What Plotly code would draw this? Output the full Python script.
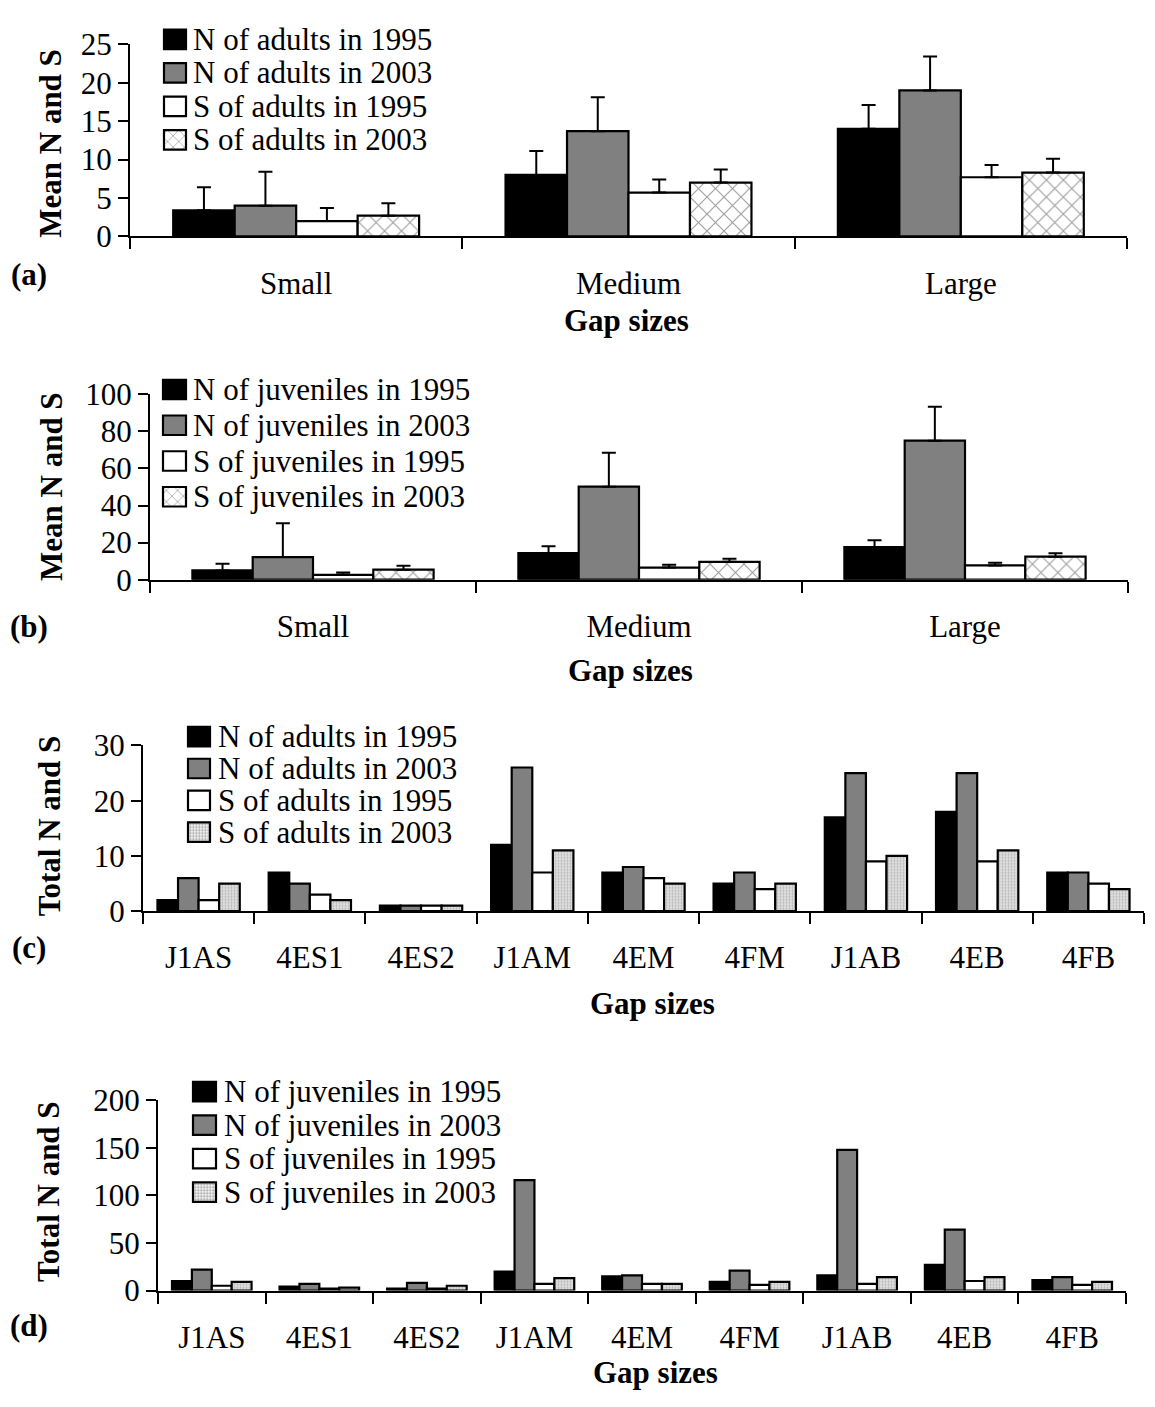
import plotly.graph_objects as go

W, H = 1155, 1407
FONT = "Liberation Serif"
FS = 31

# ---------------- data ----------------
size_cats = ["Small", "Medium", "Large"]
site_cats = ["J1AS", "4ES1", "4ES2", "J1AM", "4EM", "4FM", "J1AB", "4EB", "4FB"]

adult_labels = ["N of adults in 1995", "N of adults in 2003",
                "S of adults in 1995", "S of adults in 2003"]
juv_labels = ["N of juveniles in 1995", "N of juveniles in 2003",
              "S of juveniles in 1995", "S of juveniles in 2003"]

# (a) mean adults per gap size (+ SE)
a_N1995 = [3.4, 8.0, 14.0]
a_N2003 = [4.0, 13.7, 19.0]
a_S1995 = [2.0, 5.7, 7.7]
a_S2003 = [2.7, 7.0, 8.3]
a_N1995_se = [3.0, 3.1, 3.1]
a_N2003_se = [4.4, 4.4, 4.4]
a_S1995_se = [1.7, 1.7, 1.6]
a_S2003_se = [1.6, 1.7, 1.8]

# (b) mean juveniles per gap size (+ SE)
b_N1995 = [5.0, 14.3, 17.6]
b_N2003 = [12.2, 50.2, 75.0]
b_S1995 = [2.6, 6.5, 7.7]
b_S2003 = [5.4, 9.6, 12.4]
b_N1995_se = [3.6, 3.7, 3.7]
b_N2003_se = [18.2, 18.3, 18.3]
b_S1995_se = [1.2, 1.5, 1.4]
b_S2003_se = [2.1, 1.7, 1.8]

# (c) total adults per gap
c_N1995 = [2, 7, 1, 12, 7, 5, 17, 18, 7]
c_N2003 = [6, 5, 1, 26, 8, 7, 25, 25, 7]
c_S1995 = [2, 3, 1, 7, 6, 4, 9, 9, 5]
c_S2003 = [5, 2, 1, 11, 5, 5, 10, 11, 4]

# (d) total juveniles per gap
d_N1995 = [10, 4, 2, 20, 15, 9, 16, 27, 11]
d_N2003 = [22, 7, 8, 116, 16, 21, 148, 64, 14]
d_S1995 = [5, 2, 2, 7, 7, 6, 7, 10, 6]
d_S2003 = [9, 3, 5, 13, 7, 9, 14, 14, 9]

# ---------------- styles ----------------
BASE_COLORS = ["#000000", "#808080", "#ffffff", "#ffffff"]
HATCH = dict(shape="x", fgcolor="#404040", bgcolor="#ffffff", size=12, solidity=0.18)
STIPPLE = dict(shape=".", fgcolor="#8a8a8a", bgcolor="#e6e6e6", size=3, solidity=0.45)


def px_x(p):
    return p / W


def px_y(p):
    return 1 - p / H


panels = [
    dict(cats=size_cats, series=[a_N1995, a_N2003, a_S1995, a_S2003],
         se=[a_N1995_se, a_N2003_se, a_S1995_se, a_S2003_se], labels=adult_labels,
         pat=HATCH, x0=130, x1=1127, ytop=28, ybot=225, ymax=25, dtick=5,
         ytitle="Mean N and S", ytitle_pos=(51, 130), gap_pos=(626, 311),
         letter="(a)", letter_pos=(29, 264),
         sw=(164, 186), rows=(23, 126), text_x=191),
    dict(cats=size_cats, series=[b_N1995, b_N2003, b_S1995, b_S2003],
         se=[b_N1995_se, b_N2003_se, b_S1995_se, b_S2003_se], labels=juv_labels,
         pat=HATCH, x0=150, x1=1128, ytop=387, ybot=577, ymax=100, dtick=20,
         ytitle="Mean N and S", ytitle_pos=(51, 482), gap_pos=(630, 670),
         letter="(b)", letter_pos=(29, 625),
         sw=(163, 186), rows=(382, 492), text_x=191),
    dict(cats=site_cats, series=[c_N1995, c_N2003, c_S1995, c_S2003],
         se=None, labels=adult_labels,
         pat=STIPPLE, x0=143, x1=1144, ytop=747, ybot=917, ymax=30, dtick=10,
         ytitle="Total N and S", ytitle_pos=(49, 830), gap_pos=(652, 1012),
         letter="(c)", letter_pos=(29, 954),
         sw=(188, 210), rows=(738, 836), text_x=216),
    dict(cats=site_cats, series=[d_N1995, d_N2003, d_S1995, d_S2003],
         se=None, labels=juv_labels,
         pat=STIPPLE, x0=158, x1=1126, ytop=1111, ybot=1306, ymax=200, dtick=50,
         ytitle="Total N and S", ytitle_pos=(48, 1205), gap_pos=(655, 1390),
         letter="(d)", letter_pos=(29, 1342),
         sw=(193, 216), rows=(1102, 1205), text_x=222),
]

fig = go.Figure()
layout = dict(
    width=W, height=H, margin=dict(l=0, r=0, t=0, b=0),
    paper_bgcolor="white", plot_bgcolor="white",
    barmode="group", bargap=0.26, bargroupgap=0,
    showlegend=False, font=dict(family=FONT, size=FS, color="black"),
)
annotations = []

for i, p in enumerate(panels):
    k = i + 1
    xa = "x" if k == 1 else f"x{k}"
    ya = "y" if k == 1 else f"y{k}"
    xkey = "xaxis" if k == 1 else f"xaxis{k}"
    ykey = "yaxis" if k == 1 else f"yaxis{k}"

    for j, vals in enumerate(p["series"]):
        marker = dict(color=BASE_COLORS[j], line=dict(color="black", width=2.2))
        if j == 3:
            marker["pattern"] = p["pat"]
        err = None
        if p["se"] is not None:
            err = dict(type="data", array=p["se"][j], arrayminus=[0] * len(vals),
                       symmetric=False, color="black", thickness=2, width=7)
        fig.add_trace(go.Bar(x=p["cats"], y=vals, name=p["labels"][j],
                             marker=marker, error_y=err, xaxis=xa, yaxis=ya,
                             showlegend=False))

    layout[xkey] = dict(
        domain=[px_x(p["x0"]), px_x(p["x1"])], anchor=ya,
        type="category", showline=True, linecolor="black", linewidth=2,
        ticks="outside", tickson="boundaries", ticklen=11, tickwidth=2,
        tickcolor="black", showgrid=False, zeroline=False,
        tickfont=dict(family=FONT, size=FS, color="black"),
        ticklabelstandoff=18,
    )
    layout[ykey] = dict(
        domain=[px_y(p["ybot"]), px_y(p["ytop"])], anchor=xa,
        range=[0, p["ymax"]], dtick=p["dtick"], tick0=0,
        showline=True, linecolor="black", linewidth=2,
        ticks="outside", ticklen=10, tickwidth=2, tickcolor="black",
        showgrid=False, zeroline=False,
        tickfont=dict(family=FONT, size=FS, color="black"),
    )

    # titles & panel letter
    annotations.append(dict(text="<b>" + p["ytitle"] + "</b>", textangle=-90,
                            x=px_x(p["ytitle_pos"][0]), y=px_y(p["ytitle_pos"][1]),
                            xref="paper", yref="paper", xanchor="center", yanchor="middle",
                            showarrow=False, font=dict(family=FONT, size=FS, color="black")))
    annotations.append(dict(text="<b>Gap sizes</b>",
                            x=px_x(p["gap_pos"][0]), y=px_y(p["gap_pos"][1]),
                            xref="paper", yref="paper", xanchor="center", yanchor="middle",
                            showarrow=False, font=dict(family=FONT, size=FS, color="black")))
    annotations.append(dict(text="<b>" + p["letter"] + "</b>",
                            x=px_x(p["letter_pos"][0]), y=px_y(p["letter_pos"][1]),
                            xref="paper", yref="paper", xanchor="center", yanchor="middle",
                            showarrow=False, font=dict(family=FONT, size=FS, color="black")))

    # manual legend: swatches drawn as a small horizontal bar trace in an inset axis
    lk = k + 4
    lxkey, lykey = f"xaxis{lk}", f"yaxis{lk}"
    r1, r4 = p["rows"]
    s = (r4 - r1) / 3.0
    sw0, sw1 = p["sw"]
    swpad = (sw1 - sw0) * 0.1
    layout[lxkey] = dict(domain=[px_x(sw0 - swpad), px_x(sw1 + swpad)], anchor=f"y{lk}",
                         range=[-0.1, 1.1], visible=False, fixedrange=True)
    layout[lykey] = dict(domain=[px_y(r4 + s / 2), px_y(r1 - s / 2)], anchor=f"x{lk}",
                         range=[-0.5, 3.5], visible=False, fixedrange=True)
    pat = p["pat"]
    fig.add_trace(go.Bar(
        y=[3, 2, 1, 0], x=[1, 1, 1, 1], base=0, orientation="h", width=20 / s,
        marker=dict(color=BASE_COLORS, line=dict(color="black", width=2.2),
                    pattern=dict(shape=["", "", "", pat["shape"]],
                                 fgcolor=pat["fgcolor"],
                                 bgcolor=[BASE_COLORS[0], BASE_COLORS[1], BASE_COLORS[2], pat["bgcolor"]],
                                 size=pat["size"] if pat["shape"] == "." else 8,
                                 solidity=pat["solidity"])),
        xaxis=f"x{lk}", yaxis=f"y{lk}", showlegend=False, hoverinfo="skip"))
    for j, lab in enumerate(p["labels"]):
        annotations.append(dict(text=lab, x=px_x(p["text_x"]), y=px_y(r1 + j * s),
                                xref="paper", yref="paper", xanchor="left", yanchor="middle",
                                showarrow=False, font=dict(family=FONT, size=FS, color="black")))

layout["annotations"] = annotations
fig.update_layout(**layout)
fig.write_html("out.html")
